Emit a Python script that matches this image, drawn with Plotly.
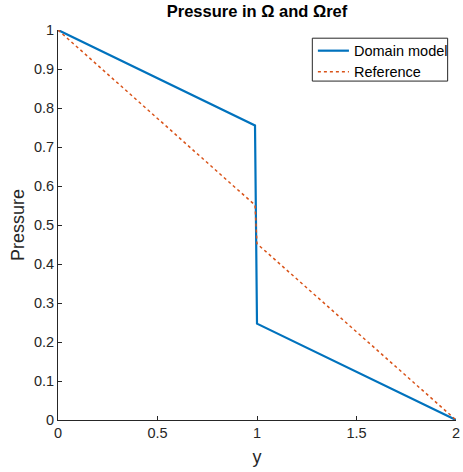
import plotly.graph_objects as go

x_model = [0.0, 0.99, 1.0, 2.0]
p_model = [1.0, 0.755, 0.247, 0.0]
x_ref = [0.0, 0.99, 1.0, 2.0]
p_ref = [1.0, 0.551, 0.452, 0.0]

x_ticks = [0, 0.5, 1, 1.5, 2]
x_labels = ["0", "0.5", "1", "1.5", "2"]
y_ticks = [0, 0.1, 0.2, 0.3, 0.4, 0.5, 0.6, 0.7, 0.8, 0.9, 1]
y_labels = ["0", "0.1", "0.2", "0.3", "0.4", "0.5", "0.6", "0.7", "0.8", "0.9", "1"]
series_names = ["Domain model", "Reference"]
series_colors = ["#0072BD", "#D95319"]

FONT = "Liberation Sans, Arial"

fig = go.Figure()
fig.add_trace(go.Scatter(x=x_model, y=p_model, mode="lines", name=series_names[0],
                         line=dict(color=series_colors[0], width=2.2), showlegend=False))
fig.add_trace(go.Scatter(x=x_ref, y=p_ref, mode="lines", name=series_names[1],
                         line=dict(color=series_colors[1], width=1.5, dash="dot"), showlegend=False))

axis_common = dict(showgrid=False, zeroline=False, showline=True, linecolor="#262626",
                   linewidth=1, ticks="inside", ticklen=4, tickcolor="#262626",
                   tickfont=dict(family=FONT, size=14.5, color="#262626"),
                   mirror=False, automargin=False)

# custom legend (MATLAB style box)
row_y = [0.947, 0.893]
shapes = [
    dict(type="rect", xref="paper", yref="paper", x0=0.639, x1=0.979, y0=0.869, y1=0.979,
         line=dict(color="#262626", width=1), fillcolor="white", layer="above"),
    dict(type="line", xref="paper", yref="paper", x0=0.653, x1=0.731, y0=row_y[0], y1=row_y[0],
         line=dict(color=series_colors[0], width=2.2), layer="above"),
    dict(type="line", xref="paper", yref="paper", x0=0.653, x1=0.731, y0=row_y[1], y1=row_y[1],
         line=dict(color=series_colors[1], width=1.5, dash="dot"), layer="above"),
]
annotations = [
    dict(xref="paper", yref="paper", x=0.739, y=yy, xanchor="left", yanchor="middle",
         text=name, showarrow=False, font=dict(family=FONT, size=14.5, color="black"))
    for name, yy in zip(series_names, row_y)
]

fig.update_layout(
    width=463, height=472,
    margin=dict(l=58, r=7, t=30, b=52, autoexpand=False),
    paper_bgcolor="white", plot_bgcolor="white",
    title=dict(text="<b>Pressure in Ω and Ωref</b>", x=0.5, xref="paper", xanchor="center",
               y=1, yref="container", yanchor="top", pad=dict(t=5),
               font=dict(family=FONT, size=16.5, color="black")),
    xaxis=dict(range=[0, 2], tickvals=x_ticks, ticktext=x_labels,
               title=dict(text="y", font=dict(family=FONT, size=18, color="#262626"), standoff=9),
               **axis_common),
    yaxis=dict(range=[0, 1], tickvals=y_ticks, ticktext=y_labels,
               title=dict(text="Pressure", font=dict(family=FONT, size=18, color="#262626"), standoff=4),
               **axis_common),
    shapes=shapes,
    annotations=annotations,
    showlegend=False,
)

fig.write_html("out.html")
